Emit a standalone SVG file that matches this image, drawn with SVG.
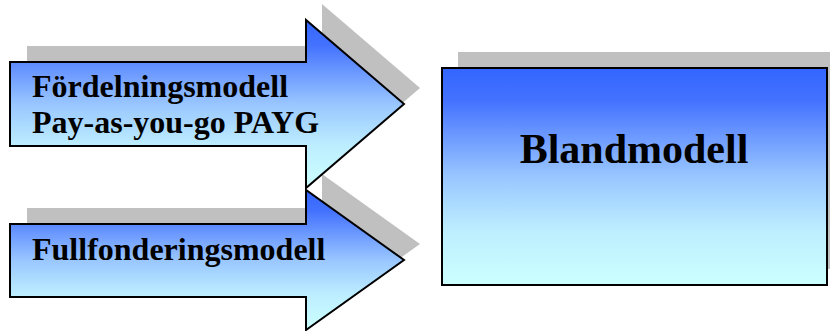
<svg xmlns="http://www.w3.org/2000/svg" width="830" height="331" viewBox="0 0 830 331">
  <defs>
    <linearGradient id="blueGrad" x1="0" y1="0" x2="0" y2="1">
      <stop offset="0" stop-color="#3366ff"/>
      <stop offset="0.15" stop-color="#4472ff"/>
      <stop offset="0.5" stop-color="#99c6ff"/>
      <stop offset="0.75" stop-color="#bdeeff"/>
      <stop offset="1" stop-color="#ccffff"/>
    </linearGradient>
  </defs>
  <style>
    .shadow { fill: #c0c0c0; stroke: none; }
    .shape { fill: url(#blueGrad); stroke: #000; stroke-width: 2; stroke-linejoin: miter; }
    .lbl { font-family: "Liberation Serif", "Times New Roman", serif; font-weight: bold; fill: #000; }
  </style>

  <g id="shadows">
    <polygon class="shadow" points="27,46 322,46 322,4 420,88 322,172 322,130 27,130"/>
    <polygon class="shadow" points="27,208 322,208 322,174 420,244 322,314 322,281 27,281"/>
    <rect class="shadow" x="458" y="52" width="372" height="217"/>
  </g>

  <g id="node-fullfondering">
    <polygon class="shape" points="10,224 306,224 306,190 404,260 306,330 306,297 10,297"/>
    <text class="lbl" x="32" y="260" font-size="32">Fullfonderingsmodell</text>
  </g>

  <g id="node-fordelning">
    <polygon class="shape" points="10,62 306,62 306,20 404,104 306,188 306,146 10,146"/>
    <text class="lbl" x="32" y="97" font-size="32">Fördelningsmodell</text>
    <text class="lbl" x="32" y="133" font-size="32">Pay-as-you-go PAYG</text>
  </g>

  <g id="node-blandmodell">
    <rect class="shape" x="442" y="68" width="385" height="217"/>
    <text class="lbl" x="634" y="163" font-size="42" text-anchor="middle">Blandmodell</text>
  </g>

  <g id="connectors"></g>
</svg>
